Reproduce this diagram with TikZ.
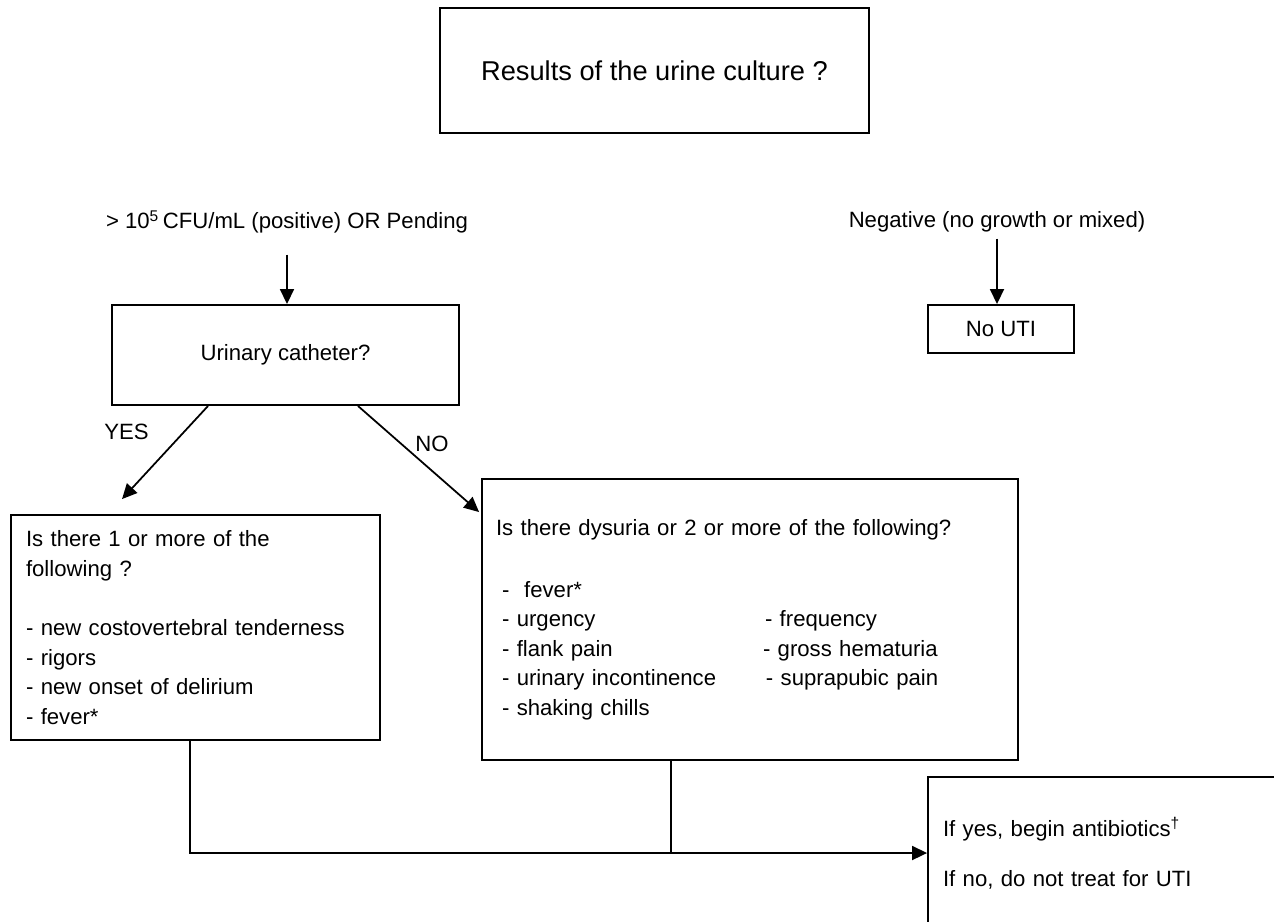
\documentclass[tikz,border=0pt]{standalone}
\usepackage{fontspec}
\setmainfont{Liberation Sans}
\usetikzlibrary{shapes, arrows.meta, positioning}

\begin{document}
\begin{tikzpicture}[
        x=0.02cm, y=-0.02cm,
        every node/.style={font=\fontsize{12.6}{16.8}\selectfont},
        box/.style={rectangle, draw, line width=1.1pt, align=center},
        listbox/.style={rectangle, draw, line width=1.1pt, align=left, inner xsep=0.3cm},
        tag/.style={inner sep=0.333em},
        arrow/.style={line width=1pt, -{Triangle[length=0.3cm, width=0.28cm]}},
        joint/.style={line width=1pt}
    ]
    \useasboundingbox (0,0) rectangle (1274,921);
    \clip (0,0) rectangle (1274,921);

    % Urine culture
    \node [box, minimum width=8.58cm, minimum height=2.5cm, font=\fontsize{15.5}{18}\selectfont] (culture) at (654.5,70.5) {Results of the urine culture ?};

    % Results
    \node [tag] (positive) at (287,222) {> 10\textsuperscript{5}\,CFU/mL (positive) OR Pending};
    \node [tag] (negative) at (997,222) {Negative (no growth or mixed)};

    % Catheter question / no UTI
    \node [box, minimum width=6.94cm, minimum height=2cm] (catheter) at (285.5,355) {Urinary catheter?};
    \node [box, minimum width=2.92cm, minimum height=0.96cm] (nouti) at (1001,329) {No UTI};

    % Criteria with catheter
    \node [listbox, text width=6.78cm, minimum height=4.5cm] (withcath) at (195.5,627.5) {Is there 1 or more of the\\ following ?\\[0.6cm]- new costovertebral tenderness\\ - rigors\\ - new onset of delirium\\ - fever*};

    % Criteria without catheter
    \node [listbox, inner xsep=0.28cm, text width=10.16cm, minimum height=5.62cm] (nocath) at (750,619.5) {Is there dysuria or 2 or more of the following?\\[0.65cm]
        \hspace*{0.12cm}-\ \ fever*\\
        \hspace*{0.12cm}\makebox[5.26cm][l]{- urgency}- frequency\\
        \hspace*{0.12cm}\makebox[5.22cm][l]{- flank pain}- gross hematuria\\
        \hspace*{0.12cm}\makebox[5.28cm][l]{- urinary incontinence}- suprapubic pain\\
        \hspace*{0.12cm}- shaking chills};

    % Treatment
    \node [listbox, text width=6.64cm, minimum height=3.04cm] (treat) at (1109,853) {If yes, begin antibiotics\textsuperscript{\dag}\\[0.41cm]If no, do not treat for UTI};

    % Connecting lines
    \draw [arrow, shorten <=0.3cm] (positive.south) -- (positive.south |- catheter.north);
    \draw [arrow] (negative.south) -- (negative.south |- nouti.north);
    \draw [arrow] ([xshift=-1.55cm]catheter.south) -- node[pos=0.28, left=0.57cm] {YES} ([xshift=-1.47cm, yshift=0.3cm]withcath.north);
    \draw [arrow] ([xshift=1.45cm]catheter.south) -- node[pos=0.36, right=0.14cm] {NO} ([xshift=-0.04cm, yshift=-0.68cm]nocath.north west);

    % Into treatment
    \draw [arrow] ([xshift=-0.11cm]withcath.south) |- (treat.west);
    \draw [joint] ([xshift=-1.58cm]nocath.south) -- ([xshift=-1.58cm]nocath.south |- treat.west);

\end{tikzpicture}
\end{document}
